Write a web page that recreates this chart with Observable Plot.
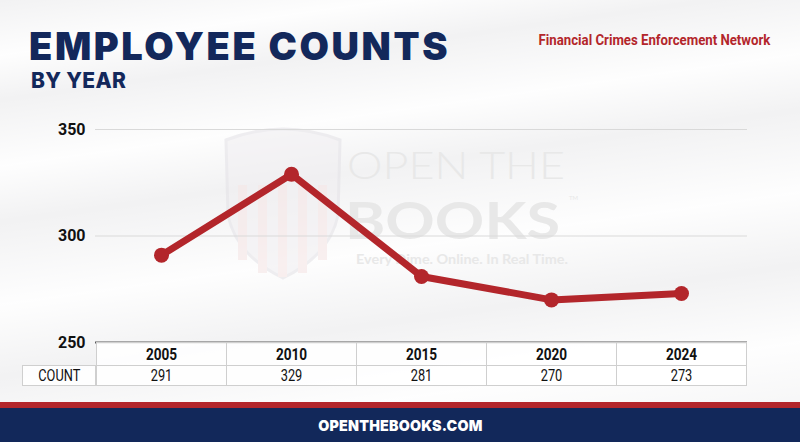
<!DOCTYPE html>
<html>
<head>
<meta charset="utf-8">
<script src="https://cdn.jsdelivr.net/npm/d3@7"></script>
<script src="https://cdn.jsdelivr.net/npm/@observablehq/plot@0.6"></script>
<style>
  html, body { margin: 0; padding: 0; }
  body { width: 800px; height: 442px; overflow: hidden; }
  #wrap {
    position: relative; width: 800px; height: 442px; overflow: hidden;
    background:
      linear-gradient(172deg, rgba(255,255,255,0) 0%, rgba(255,255,255,0.9) 10%, rgba(255,255,255,0) 18%, rgba(255,255,255,0.9) 30%, rgba(255,255,255,0) 40%, rgba(255,255,255,0.9) 55%, rgba(255,255,255,0) 68%, rgba(255,255,255,0.9) 82%, rgba(255,255,255,0) 100%),
      #f2f2f3;
    font-family: Roboto, "Liberation Sans", sans-serif;
  }
  #title {
    position: absolute; left: 29px; top: 27px; margin: 0;
    font-family: Inter, Lato, sans-serif; font-weight: 900; font-size: 38px;
    color: #13285b; letter-spacing: 2.6px; line-height: 38px; height: 38px;
  }
  #subtitle {
    position: absolute; left: 31px; top: 70px; margin: 0;
    font-family: Inter, Lato, sans-serif; font-weight: 800; font-size: 21px;
    color: #13285b; line-height: 21px; letter-spacing: 0.3px;
  }
  #agency {
    position: absolute; right: 30px; top: 33px; margin: 0;
    font-family: Roboto, sans-serif; font-weight: 700; font-size: 15px;
    color: #b3262b; line-height: 1; transform: scaleX(0.88); transform-origin: right center;
  }
  #wm { position: absolute; left: 0; top: 0; }
  #chart { position: absolute; left: 0; top: 100px; }
  #table { position: absolute; left: 0; top: 0; }
  .cell {
    position: absolute; box-sizing: border-box; border: 1px solid #cfcfcf;
    background: rgba(255,255,255,0.85);
    display: flex; align-items: center; justify-content: center;
    color: #111; font-family: Roboto, sans-serif;
  }
  .cell span { display: inline-block; transform: scaleX(0.8); }
  .hdr { font-weight: 700; font-size: 17px; }
  .val { font-weight: 400; font-size: 16px; }
  #footer-red { position: absolute; left: 0; top: 402px; width: 800px; height: 6px; background: #b3262b; }
  #footer { position: absolute; left: 0; top: 408px; width: 800px; height: 34px; background: #12285a;
    display: flex; align-items: center; justify-content: center; }
  #footer span { color: #fff; font-family: Inter, sans-serif; font-weight: 900; font-size: 15px; letter-spacing: 0.2px; display: inline-block; transform: scaleX(0.95); }
</style>
</head>
<body>
<div id="wrap">
  <svg id="wm" width="800" height="442">
    <g opacity="0.55">
      <path d="M226,140 Q283,118 340,140 L338,215 Q330,255 283,278 Q236,255 228,215 Z" fill="#f0eef1" stroke="#e3e1e6" stroke-width="3"/>
      <g fill="#f5e4e4">
        <rect x="238" y="185" width="9" height="75"/>
        <rect x="258" y="185" width="9" height="88"/>
        <rect x="278" y="185" width="9" height="92"/>
        <rect x="298" y="185" width="9" height="88"/>
        <rect x="318" y="185" width="9" height="75"/>
      </g>
    </g>
    <g fill="#e8e8e8" font-family="Lato, 'Open Sans', sans-serif">
      <text x="347" y="179" font-size="38" font-weight="300" textLength="218" lengthAdjust="spacingAndGlyphs">OPEN THE</text>
      <text x="345" y="239" font-size="51" font-weight="700" textLength="215" lengthAdjust="spacingAndGlyphs">BOOKS</text>
      <text x="569" y="200" font-size="6" font-weight="400">TM</text>
      <text x="356" y="264" font-size="13" font-weight="700" textLength="212" lengthAdjust="spacingAndGlyphs">Every Dime. Online. In Real Time.</text>
    </g>
  </svg>
  <div id="title">EMPLOYEE COUNTS</div>
  <div id="subtitle">BY YEAR</div>
  <div id="agency">Financial Crimes Enforcement Network</div>
  <div id="chart"></div>
  <div id="table"></div>
  <div id="footer-red"></div>
  <div id="footer"><span>OPENTHEBOOKS.COM</span></div>
</div>
<script>
const years = ["2005", "2010", "2015", "2020", "2024"];
const counts = [291, 329, 281, 270, 273];
const yTicks = [250, 300, 350];
const rowLabel = "COUNT";

const data = years.map((y, i) => ({year: y, count: counts[i]}));

const chart = Plot.plot({
  width: 800,
  height: 250,
  marginTop: 29,
  marginBottom: 8,
  marginLeft: 95,
  marginRight: 53,
  style: {background: "transparent", overflow: "visible"},
  x: {type: "point", domain: years, padding: 0.5, axis: null},
  y: {domain: [250, 350], axis: null},
  marks: [
    Plot.ruleY(yTicks.filter(d => d !== 250), {stroke: "#d9d9d9", strokeWidth: 1.2}),
    Plot.ruleY([250], {stroke: "#5a5a5a", strokeWidth: 2}),
    Plot.axisY(yTicks, {tickSize: 0, tickPadding: 10, fontSize: 16, fontWeight: 700, fill: "#111", label: null, fontFamily: "Roboto, sans-serif"}),
    Plot.line(data, {x: "year", y: "count", stroke: "#b3262b", strokeWidth: 7, strokeLinejoin: "round"}),
    Plot.dot(data, {x: "year", y: "count", r: 7.5, fill: "#b3262b", stroke: "none"})
  ]
});
document.getElementById("chart").appendChild(chart);

// table below the axis, aligned to the x scale
const xs = chart.scale("x");
const [r0, r1] = xs.range;
const step = (r1 - r0) / years.length;
const tbl = document.getElementById("table");
const top0 = 100 + 242;  // svg top + frame bottom
const h1 = 23, h2 = 20;
function cell(x, y, w, h, text, cls) {
  const d = document.createElement("div");
  d.className = "cell " + cls;
  Object.assign(d.style, {left: x + "px", top: y + "px", width: (w + 1) + "px", height: (h + 1) + "px"});
  const s = document.createElement("span");
  s.textContent = text;
  d.appendChild(s);
  tbl.appendChild(d);
}
years.forEach((yr, i) => {
  const cx = xs.apply(yr);
  cell(cx - step / 2, top0, step, h1, yr, "hdr");
  cell(cx - step / 2, top0 + h1, step, h2, String(counts[i]), "val");
});
cell(22, top0 + h1, r0 - 22, h2, rowLabel, "val");
</script>
</body>
</html>
